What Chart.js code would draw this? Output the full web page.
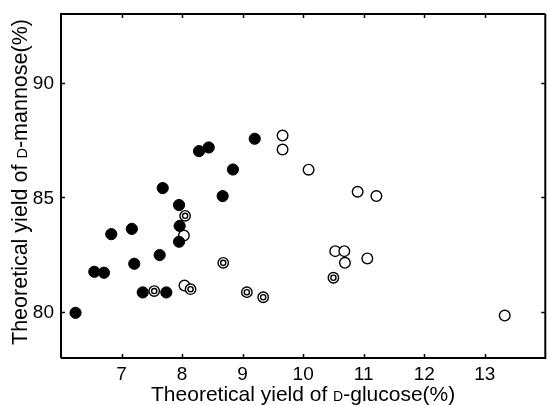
<!DOCTYPE html>
<html>
<head>
<meta charset="utf-8">
<script src="https://cdn.jsdelivr.net/npm/chart.js@4"></script>
<style>
html,body{margin:0;padding:0;background:#fff;overflow:hidden;}
#wrap{width:552px;height:405px;}
</style>
</head>
<body>
<div id="wrap"><canvas id="c" width="552" height="405"></canvas></div>
<script>
// Filled circles
const filledX = [6.24, 6.55, 6.71, 6.83, 7.17, 7.21, 7.35, 7.74, 7.63, 7.68, 7.95, 7.96, 7.95, 8.28, 8.44, 8.67, 8.84, 9.20];
const filledY = [79.97, 81.76, 81.72, 83.40, 83.63, 82.11, 80.86, 80.86, 82.49, 85.41, 84.67, 83.76, 83.07, 87.02, 87.18, 85.06, 86.22, 87.56];
// Open circles
const openX = [9.66, 9.66, 10.09, 10.90, 11.21, 10.53, 10.68, 10.69, 11.06, 13.33, 8.03, 8.04];
const openY = [87.70, 87.09, 86.21, 85.25, 85.06, 82.66, 82.66, 82.15, 82.34, 79.85, 83.34, 81.16];
// Double circles
const ringX = [8.05, 7.54, 8.14, 8.68, 9.07, 9.34, 10.50];
const ringY = [84.20, 80.92, 81.00, 82.15, 80.87, 80.65, 81.50];
// Axis ticks
const xTicks = [7, 8, 9, 10, 11, 12, 13];
const yTicks = [80, 85, 90];
const xTitlePre = "Theoretical yield of ";
const xTitleD = "D";
const xTitlePost = "-glucose(%)";
const yTitlePre = "Theoretical yield of ";
const yTitleD = "D";
const yTitlePost = "-mannose(%)";

const pts = (xs, ys) => xs.map((x, i) => ({x: x, y: ys[i]}));
const FONT = "'Liberation Sans', Arial, sans-serif";

const frame = {
  id: 'frame',
  afterDraw(chart) {
    const ctx = chart.ctx, a = chart.chartArea;
    const xs = chart.scales.x, ys = chart.scales.y;
    ctx.save();
    ctx.strokeStyle = '#000';
    ctx.lineWidth = 2;
    ctx.beginPath();
    ctx.moveTo(a.left, a.bottom); ctx.lineTo(a.left, a.top); ctx.lineTo(a.right, a.top);
    ctx.moveTo(a.left, a.bottom); ctx.lineTo(a.right, a.bottom);
    ctx.lineTo(a.right, a.top);
    ctx.stroke();
    ctx.lineWidth = 1.5;
    ctx.beginPath();
    xTicks.forEach(v => {
      const p = Math.round(xs.getPixelForValue(v)) + 0.5;
      ctx.moveTo(p, a.bottom); ctx.lineTo(p, a.bottom - 4);
      ctx.moveTo(p, a.top); ctx.lineTo(p, a.top + 4);
    });
    yTicks.forEach(v => {
      const p = Math.round(ys.getPixelForValue(v)) + 0.5;
      ctx.moveTo(a.left, p); ctx.lineTo(a.left + 4, p);
      ctx.moveTo(a.right, p); ctx.lineTo(a.right - 4, p);
    });
    ctx.stroke();
    // tick labels
    ctx.fillStyle = '#000';
    ctx.font = '19px ' + FONT;
    ctx.textAlign = 'center'; ctx.textBaseline = 'alphabetic';
    xTicks.forEach(v => ctx.fillText(String(v), xs.getPixelForValue(v), a.bottom + 22));
    ctx.textAlign = 'right'; ctx.textBaseline = 'middle';
    yTicks.forEach(v => ctx.fillText(String(v), a.left - 7, ys.getPixelForValue(v) + 1));
    // axis titles with small-cap D
    const drawTitle = (pre, d, post, big, small) => {
      ctx.font = big + 'px ' + FONT;
      const w1 = ctx.measureText(pre).width, w3 = ctx.measureText(post).width;
      ctx.font = small + 'px ' + FONT;
      const w2 = ctx.measureText(d).width;
      const tot = w1 + w2 + w3;
      let x = -tot / 2;
      ctx.textAlign = 'left'; ctx.textBaseline = 'alphabetic';
      ctx.font = big + 'px ' + FONT; ctx.fillText(pre, x, 0); x += w1;
      ctx.font = small + 'px ' + FONT; ctx.fillText(d, x, 0); x += w2;
      ctx.font = big + 'px ' + FONT; ctx.fillText(post, x, 0);
    };
    ctx.save();
    ctx.translate((a.left + a.right) / 2, 401);
    drawTitle(xTitlePre, xTitleD, xTitlePost, 21, 14);
    ctx.restore();
    ctx.save();
    ctx.translate(27, 182);
    ctx.rotate(-Math.PI / 2);
    drawTitle(yTitlePre, yTitleD, yTitlePost, 21.5, 14.5);
    ctx.restore();
    ctx.restore();
  }
};

new Chart(document.getElementById('c'), {
  type: 'scatter',
  data: {
    datasets: [
      {label: 'filled', data: pts(filledX, filledY), pointRadius: 5.6, pointBackgroundColor: '#000', pointBorderColor: '#000', pointBorderWidth: 1},
      {label: 'ringInner', data: pts(ringX, ringY), pointRadius: 2.6, pointBackgroundColor: '#fff', pointBorderColor: '#000', pointBorderWidth: 1.4},
      {label: 'ringOuter', data: pts(ringX, ringY), pointRadius: 5.2, pointBackgroundColor: '#fff', pointBorderColor: '#000', pointBorderWidth: 1.4},
      {label: 'open', data: pts(openX, openY), pointRadius: 5.3, pointBackgroundColor: '#fff', pointBorderColor: '#000', pointBorderWidth: 1.4}
    ]
  },
  options: {
    responsive: false,
    animation: false,
    events: [],
    layout: {padding: {left: 0, top: 14, right: 3, bottom: 0}},
    plugins: {legend: {display: false}, tooltip: {enabled: false}},
    scales: {
      x: {
        type: 'linear', min: 6, max: 14,
        grid: {display: false}, border: {display: false},
        ticks: {display: false, stepSize: 1},
        afterFit: s => { s.height = 47; }
      },
      y: {
        type: 'linear', min: 78, max: 93,
        grid: {display: false}, border: {display: false},
        ticks: {display: false, stepSize: 5},
        afterFit: s => { s.width = 61; }
      }
    }
  },
  plugins: [frame]
});
</script>
</body>
</html>
